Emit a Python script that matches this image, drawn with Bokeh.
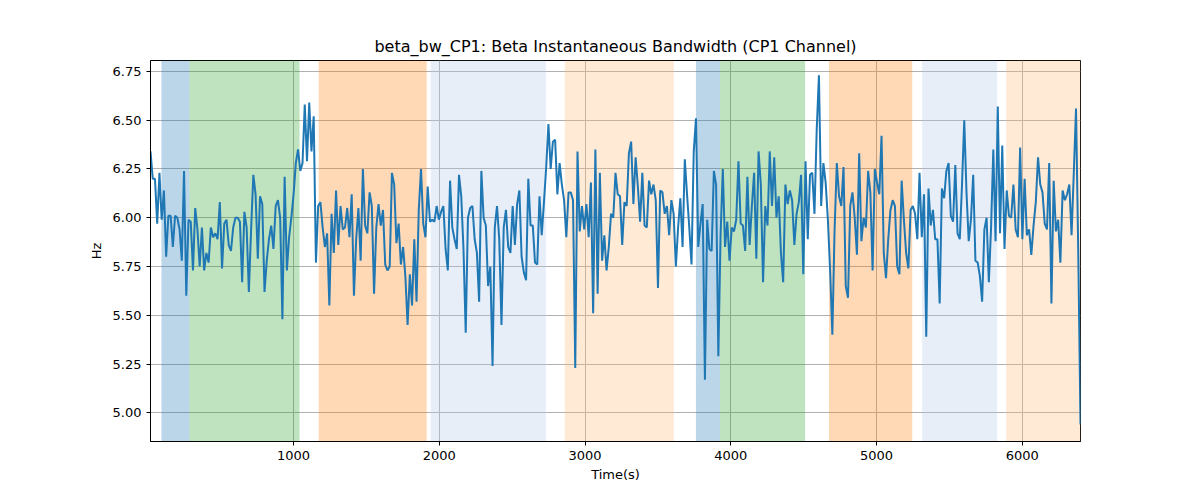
import numpy as np
from bokeh.plotting import figure
from bokeh.models import Range1d, BoxAnnotation, FixedTicker, PrintfTickFormatter
from bokeh.embed import file_html
from bokeh.resources import INLINE

# ---- data ----
hz_values = [
    # segment 1
    6.34, 6.20, 6.20, 5.97, 6.23, 5.99, 6.14, 5.80, 6.01, 6.01, 5.85, 6.01, 6.00, 5.94, 5.78, 6.24, 5.60, 5.99, 5.98, 5.73,
    6.05, 5.94, 5.75, 5.95, 5.73, 5.82, 5.77, 5.95, 5.90, 5.92, 5.89, 6.08, 5.74, 5.97, 5.99, 5.86, 5.83, 5.95, 6.00,
    # segment 2
    6.00, 5.98, 5.67, 6.03, 5.95, 5.62, 5.94, 6.22, 6.12, 5.79, 6.11, 6.07, 5.62, 5.78, 5.89, 5.96, 5.84, 6.06, 6.09, 6.00,
    5.48, 6.21, 5.73, 5.90, 6.00, 6.12, 6.28, 6.35, 6.24, 6.28, 6.58, 6.29, 6.59, 6.34, 6.52, 5.77, 6.06, 6.08, 5.95, 5.85,
    5.92, 5.55, 6.02,
    # segment 3
    5.82, 6.14, 5.86, 6.06, 5.94, 5.95, 6.05, 5.90, 6.12, 5.60, 5.89, 6.05, 5.78, 6.25, 5.96, 5.92, 6.13, 6.06, 5.61, 5.95,
    6.07, 5.96, 6.04, 5.76, 5.73, 5.75, 6.23, 6.17, 5.87, 5.97, 5.76, 5.85, 5.70, 5.45, 5.71, 5.55, 5.89, 5.57, 6.04, 6.25,
    # segment 4
    5.97, 5.90, 6.16, 5.98, 5.99, 5.98, 6.06, 5.99, 6.03, 6.06, 5.84, 5.73, 6.19, 5.95, 5.89, 5.84, 6.22, 6.11, 5.84, 5.41,
    6.00, 6.05, 6.06, 5.89, 5.82, 5.57, 6.24, 6.00, 5.96, 5.65, 5.75, 5.24, 5.95, 6.06, 5.89, 5.45, 5.95, 6.04, 5.85, 5.82,
    6.06, 5.86, 6.07,
    # segment 5
    6.14, 5.80, 5.72, 5.68, 6.20, 5.96, 5.96, 5.77, 5.76, 6.11, 5.91, 6.08, 6.26, 6.48, 6.25, 6.39, 6.40, 6.12, 6.28, 6.17,
    6.09, 5.90, 6.13, 6.13, 6.09, 5.23, 6.34, 5.93, 6.06, 5.94, 6.07, 5.90, 6.18, 5.51, 6.35, 5.61, 6.23, 5.78, 5.91, 5.73,
    5.85, 6.02, 6.00,
    # segment 6
    6.23, 6.12, 6.11, 5.86, 6.08, 6.06, 6.33, 6.39, 6.07, 6.31, 6.16, 5.98, 6.23, 5.96, 5.95, 6.19, 6.12, 6.17, 6.09, 5.64,
    6.14, 6.13, 6.02, 6.06, 5.91, 6.09, 6.02, 5.75, 5.95, 6.10, 5.85, 6.30, 6.12, 5.95, 5.76, 6.34, 6.51, 5.85, 5.97, 6.07,
    5.17, 5.99,
    # segment 7
    5.84, 5.83, 6.24, 6.17, 5.29, 5.91, 6.25, 5.85, 5.98, 5.78, 5.95, 5.93, 5.99, 6.29, 5.97, 5.96, 5.83, 6.21, 5.86, 6.06,
    6.23, 5.79, 6.34, 6.17, 5.67, 6.06, 5.96, 6.34, 6.06, 6.31, 6.00, 6.11, 5.82, 5.67, 6.17, 6.07, 6.14, 6.09, 5.86, 6.02,
    6.08, 6.22,
    # segment 8
    5.71, 6.29, 5.89, 6.22, 6.23, 6.02, 6.45, 6.73, 6.06, 6.28, 6.18, 5.99, 5.73, 5.40, 5.94, 6.28, 6.11, 6.06, 6.26, 5.65,
    5.59, 6.06, 6.13, 6.00, 5.81, 6.33, 5.88, 6.00, 5.95, 6.24, 6.13, 5.73, 6.25, 6.18, 6.12, 6.42, 5.82, 5.69, 5.89, 6.04,
    6.09, 6.06, 5.75,
    # segment 9
    5.71, 6.19, 5.99, 5.82, 5.74, 6.04, 6.06, 6.02, 5.89, 6.23, 5.90, 6.12, 5.39, 6.15, 5.96, 6.04, 5.89, 5.89, 5.56, 6.15,
    6.10, 6.24, 6.28, 6.01, 5.98, 6.27, 5.92, 5.89, 6.17, 6.50, 6.13, 5.88, 5.99, 6.22, 5.78, 5.77, 5.70, 5.57, 5.94, 6.00,
    5.67, 5.95, 6.35,
    # segment 10
    5.88, 6.57, 5.92, 6.37, 5.84, 6.14, 6.01, 6.00, 6.17, 5.94, 5.90, 6.36, 5.89, 6.20, 5.91, 5.94, 5.81, 5.96, 6.08, 6.31,
    6.17, 6.13, 5.97, 5.94, 6.28, 5.56, 6.19, 5.93, 5.99, 5.77, 6.14, 6.09, 6.12, 6.17, 5.91, 6.23, 6.56, 5.82, 4.94,
]
t_start = 18
t_end = 6400
times = np.linspace(t_start, t_end, len(hz_values))

span_starts = [93, 286, 1172, 1941, 2861, 3761, 3926, 4674, 5313, 5890]
span_ends = [286, 1041, 1913, 2731, 3610, 3926, 4510, 5245, 5828, 6405]
span_colors = ["#1f77b4", "#2ca02c", "#ff7f0e", "#aec7e8", "#ffbb78",
               "#1f77b4", "#2ca02c", "#ff7f0e", "#aec7e8", "#ffbb78"]

x_ticks = [1000, 2000, 3000, 4000, 5000, 6000]
y_ticks = [5.00, 5.25, 5.50, 5.75, 6.00, 6.25, 6.50, 6.75]

FONT = "DejaVu Sans"

p = figure(width=1184, height=484, output_backend="svg", toolbar_location=None,
           x_range=Range1d(t_start, t_end), y_range=Range1d(4.853, 6.806),
           title="beta_bw_CP1: Beta Instantaneous Bandwidth (CP1 Channel)",
           min_border_left=150, min_border_right=104, min_border_top=60, min_border_bottom=39)

p.title.align = "center"
p.title.text_font = FONT
p.title.text_font_size = "16px"
p.title.text_font_style = "normal"
p.title.text_color = "black"

for s, e, c in zip(span_starts, span_ends, span_colors):
    p.add_layout(BoxAnnotation(left=s, right=e, fill_color=c, fill_alpha=0.3,
                               line_color=None, level="underlay"))

p.line(times, hz_values, line_color="#1f77b4", line_width=2)

p.xaxis.ticker = FixedTicker(ticks=x_ticks)
p.yaxis.ticker = FixedTicker(ticks=y_ticks)
p.yaxis.formatter = PrintfTickFormatter(format="%.2f")
p.xaxis.axis_label = "Time(s)"
p.yaxis.axis_label = "Hz"
for ax in (p.xaxis[0], p.yaxis[0]):
    ax.axis_label_text_font = FONT
    ax.axis_label_text_font_size = "13px"
    ax.axis_label_text_font_style = "normal"
    ax.axis_label_text_color = "black"
    ax.major_label_text_font = FONT
    ax.major_label_text_font_size = "13px"
    ax.major_label_text_color = "black"
    ax.major_tick_in = 0
    ax.major_tick_out = 4
    ax.minor_tick_line_color = None
    ax.axis_line_color = "black"
    ax.major_tick_line_color = "black"
p.xaxis.axis_label_standoff = 4
p.yaxis.axis_label_standoff = 6

p.xgrid.grid_line_color = "#b0b0b0"
p.ygrid.grid_line_color = "#b0b0b0"
p.xgrid.grid_line_width = 1
p.ygrid.grid_line_width = 1
p.grid.level = "underlay"

p.outline_line_color = "black"
p.outline_line_width = 1
p.background_fill_color = "white"
p.border_fill_color = "white"

open("out.html", "w").write(file_html(p, INLINE))
